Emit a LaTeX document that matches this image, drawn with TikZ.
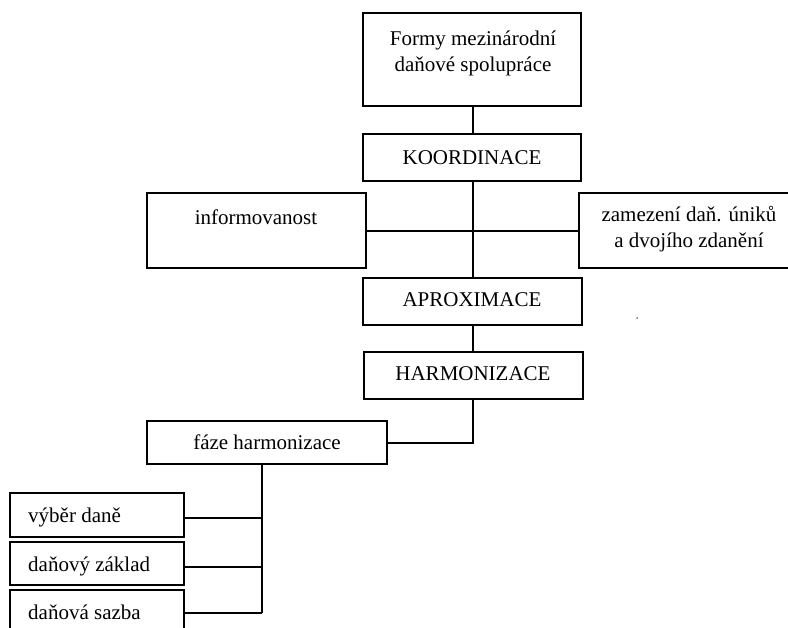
\documentclass[tikz,border=0pt]{standalone}
\usepackage{fontspec}
\setmainfont{Liberation Serif}
\begin{document}
\begin{tikzpicture}[x=1pt,y=-1pt,
  boxst/.style={draw=black,line width=1.8pt,rectangle,inner sep=0pt,fill=white},
  lbl/.style={font=\fontsize{21}{26}\selectfont,inner sep=0pt,align=center},
  conn/.style={draw=black,line width=1.8pt}]
\useasboundingbox (0,0) rectangle (788,628);
% boxes
\node[boxst,minimum width=218pt,minimum height=93pt] (top) at (472,59.5) {};
\node[boxst,minimum width=218pt,minimum height=47pt] (koord) at (472,157.5) {};
\node[boxst,minimum width=219pt,minimum height=75pt] (info) at (256.5,230.5) {};
\node[boxst,minimum width=216pt,minimum height=75pt] (zamez) at (687,230.5) {};
\node[boxst,minimum width=219pt,minimum height=47pt] (aprox) at (472.5,301.5) {};
\node[boxst,minimum width=219pt,minimum height=47pt] (harm) at (473.5,375.5) {};
\node[boxst,minimum width=240pt,minimum height=43pt] (faze) at (267,442.5) {};
\node[boxst,minimum width=174pt,minimum height=44pt] (b1) at (97,515) {};
\node[boxst,minimum width=174pt,minimum height=43pt] (b2) at (97,563.5) {};
\node[boxst,minimum width=174pt,minimum height=50pt] (b3) at (97,615) {};
% texts
\node[lbl] (ttop) at (473,53) {Formy mezinárodní\\daňové spolupráce};
\node[lbl] (tkoord) at (472,158) {KOORDINACE};
\node[lbl] (tinfo) at (256,217) {informovanost};
\node[lbl] (tzamez) at (689,229) {zamezení daň. úniků\\a dvojího zdanění};
\node[lbl] (taprox) at (472,300) {APROXIMACE};
\node[lbl] (tharm) at (473,374) {HARMONIZACE};
\node[lbl] (tfaze) at (267,442) {fáze harmonizace};
\node[lbl,anchor=west] (tb1) at (28,517) {výběr daně};
\node[lbl,anchor=west] (tb2) at (28,566) {daňový základ};
\node[lbl,anchor=west] (tb3) at (28,612) {daňová sazba};
\node[circle,fill=black,inner sep=0pt,minimum size=1.5pt] (dot) at (637,318) {};
% connectors
\coordinate (j1) at (473,231);
\coordinate (j2) at (473,443);
\coordinate (k1) at (262,518);
\coordinate (k2) at (262,567);
\coordinate (k3) at (262,613);
\draw[conn] (top.south -| j1) -- (koord.north -| j1);
\draw[conn] (koord.south -| j1) -- (aprox.north -| j1);
\draw[conn] (info.east |- j1) -- (zamez.west |- j1);
\draw[conn] (aprox.south -| j1) -- (harm.north -| j1);
\draw[conn] (harm.south -| j2) -- (j2) -- (faze.east |- j2);
\draw[conn] (faze.south -| k1) -- (k3);
\draw[conn] (b1.east |- k1) -- (k1);
\draw[conn] (b2.east |- k2) -- (k2);
\draw[conn] (b3.east |- k3) -- (k3);
\end{tikzpicture}
\end{document}
